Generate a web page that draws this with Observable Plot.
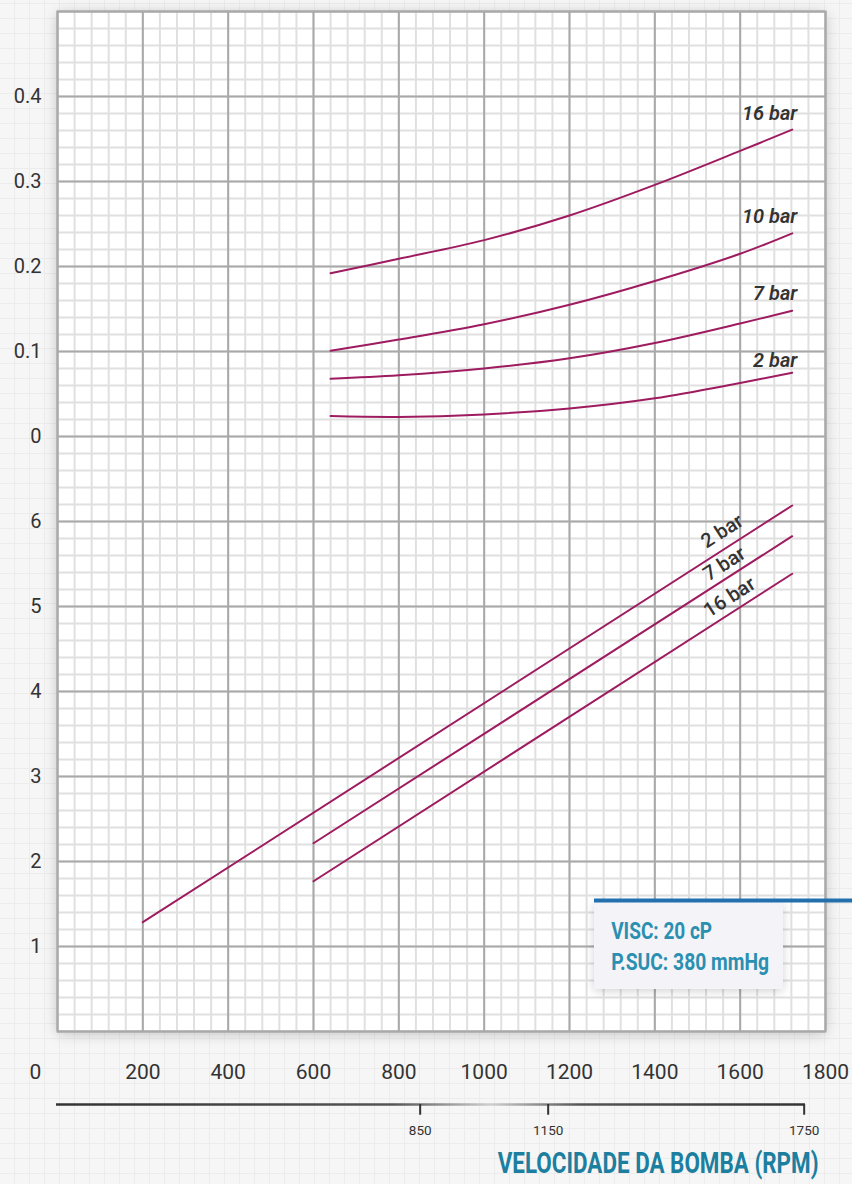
<!DOCTYPE html>
<html><head><meta charset="utf-8">
<script src="https://cdn.jsdelivr.net/npm/d3@7"></script>
<script src="https://cdn.jsdelivr.net/npm/@observablehq/plot@0.6"></script>
<style>
html,body{margin:0;padding:0;}
body{width:852px;height:1184px;overflow:hidden;background-color:#f6f6f6;
background-image:linear-gradient(#ececec 1px,transparent 1px),linear-gradient(90deg,#ececec 1px,transparent 1px);
background-size:15px 15px;background-position:14px 3px;font-family:Roboto,sans-serif;}
#chart svg{display:block;overflow:visible;background:transparent}
</style></head><body><div id="chart"></div>
<script>
// ---------- data ----------
const speedPower = [640, 800, 1000, 1200, 1400, 1600, 1722];
const power16bar = [0.192, 0.209, 0.231, 0.260, 0.296, 0.336, 0.361];
const power10bar = [0.101, 0.114, 0.132, 0.155, 0.183, 0.215, 0.239];
const power7bar  = [0.068, 0.072, 0.080, 0.092, 0.110, 0.133, 0.148];
const power2bar  = [0.024, 0.023, 0.026, 0.033, 0.045, 0.063, 0.075];

const flowSpeed2bar = [200, 1722];
const flow2bar = [1.286, 6.188];
const flowSpeed7bar = [600, 1722];
const flow7bar = [2.215, 5.827];
const flowSpeed16bar = [600, 1722];
const flow16bar = [1.768, 5.385];

const rpmTicks = [200, 400, 600, 800, 1000, 1200, 1400, 1600, 1800];
const flowTicks = [1, 2, 3, 4, 5, 6];
const powerTicks = [0, 0.1, 0.2, 0.3, 0.4];
const speedMarks = [850, 1150, 1750];
const conditions = ["VISC: 20 cP", "P.SUC: 380 mmHg"];
const xTitle = "VELOCIDADE DA BOMBA (RPM)";

// ---------- mapping into the shared vertical band ----------
const flowY = v => v;            // lower band: flow 0..7
const powerY = p => 7 + 10 * p;  // upper band: power 0..0.5

const powerRows = [];
[["16 bar", power16bar], ["10 bar", power10bar], ["7 bar", power7bar], ["2 bar", power2bar]]
  .forEach(([name, arr]) => speedPower.forEach((s, i) => powerRows.push({series: name, rpm: s, y: powerY(arr[i])})));
const flowRows = [];
[["2 bar", flowSpeed2bar, flow2bar], ["7 bar", flowSpeed7bar, flow7bar], ["16 bar", flowSpeed16bar, flow16bar]]
  .forEach(([name, sp, arr]) => sp.forEach((s, i) => flowRows.push({series: name, rpm: s, y: flowY(arr[i])})));

const powerLabels = [
  {t: "16 bar", rpm: 1734, y: powerY(0.380)},
  {t: "10 bar", rpm: 1734, y: powerY(0.2588)},
  {t: "7 bar", rpm: 1734, y: powerY(0.168)},
  {t: "2 bar", rpm: 1734, y: powerY(0.0894)}
];
const flowLabels = [
  {t: "2 bar", rpm: 1558, y: 5.886},
  {t: "7 bar", rpm: 1563, y: 5.502},
  {t: "16 bar", rpm: 1575, y: 5.109}
];

const yLabelRows = [
  ...flowTicks.map(v => ({y: flowY(v), t: String(v)})),
  ...powerTicks.map(p => ({y: powerY(p), t: String(p)}))
];

const curveColor = "#9e1b5f";
const font = "Roboto, 'DejaVu Sans', sans-serif";

const svg = Plot.plot({
  width: 852, height: 1184,
  marginLeft: 57, marginRight: 27, marginTop: 11, marginBottom: 153,
  x: {domain: [0, 1800], axis: null},
  y: {domain: [0, 12], axis: null},
  style: {fontFamily: font, background: "transparent", overflow: "visible"},
  marks: [
    Plot.frame({fill: "white", stroke: null}),
    Plot.ruleX(d3.range(0, 1801, 40), {stroke: "#e0e0e0", strokeWidth: 2}),
    Plot.ruleY(d3.range(0, 60.5, 1).map(i => i / 5), {stroke: "#e0e0e0", strokeWidth: 2}),
    Plot.ruleX(d3.range(0, 1801, 200), {stroke: "#a9a9a9", strokeWidth: 2}),
    Plot.ruleY(d3.range(0, 13, 1), {stroke: "#a9a9a9", strokeWidth: 2}),
    Plot.frame({stroke: "#a9a9a9", strokeWidth: 2}),
    Plot.line(powerRows, {x: "rpm", y: "y", z: "series", stroke: curveColor, strokeWidth: 2, curve: "catmull-rom"}),
    Plot.line(flowRows, {x: "rpm", y: "y", z: "series", stroke: curveColor, strokeWidth: 2}),
    Plot.text(powerLabels, {x: "rpm", y: "y", text: "t", textAnchor: "end", lineAnchor: "middle",
      fontSize: 20, fontStyle: "italic", fontWeight: 600, fill: "#333"}),
    Plot.text(flowLabels, {x: "rpm", y: "y", text: "t", rotate: -32.7, lineAnchor: "middle",
      fontSize: 20, fontWeight: 500, fill: "#333"}),
    // info box
    Plot.rect([0], {x1: 1258.6, x2: 1701.6, y1: 0.494, y2: 1.518, fill: "#f3f3f8"}),
    Plot.ruleY([1.541], {x1: 1258.6, x2: 1870, stroke: "#2271ae", strokeWidth: 4}),
    Plot.text(conditions, {x: 1297.7, y: (d, i) => [1.091, 0.718][i], text: d => d, textAnchor: "start",
      lineAnchor: "bottom", fontSize: 23, fontWeight: 700, fill: "#2a8fb1"}),
    // y tick labels
    Plot.text(yLabelRows, {x: 0, y: "y", text: "t", dx: -16, textAnchor: "end", lineAnchor: "middle",
      fontSize: 20, fill: "#333"}),
    // x tick labels
    Plot.text(rpmTicks, {x: d => d, y: -0.479, text: d => String(d), lineAnchor: "middle", fontSize: 21, fill: "#333"}),
    Plot.text([0], {x: 0, y: -0.479, dx: -22, text: d => String(d), lineAnchor: "middle", fontSize: 21, fill: "#333"}),
    // secondary speed axis
    Plot.ruleY([-0.859], {x1: -2.3, x2: 1753, stroke: "url(#axisGrad)", strokeWidth: 2.5}),
    Plot.ruleX(speedMarks, {x: d => d, y1: -0.859, y2: -0.985, stroke: "#333", strokeWidth: 2}),
    Plot.text(speedMarks, {x: d => d, y: -1.165, text: d => String(d), lineAnchor: "middle", fontSize: 13.5, fill: "#333"}),
    Plot.text([xTitle], {x: 1783.6, y: -1.66, text: d => d, textAnchor: "end", lineAnchor: "bottom",
      fontSize: 29, fontWeight: 700, fill: "#1d7f9f"})
  ]
});

const s = d3.select(svg);
const defs = s.insert("defs", ":first-child");
const g = defs.append("linearGradient").attr("id", "axisGrad").attr("gradientUnits", "userSpaceOnUse")
  .attr("x1", 56).attr("x2", 805).attr("y1", 0).attr("y2", 0);
[[0, "#333"], [0.45, "#555"], [0.58, "#cfcfcf"], [0.7, "#555"], [1, "#333"]]
  .forEach(([o, c]) => g.append("stop").attr("offset", o).attr("stop-color", c));

const frames = svg.querySelectorAll('[aria-label="frame"]');
if (frames.length) frames[0].style.filter = "drop-shadow(0px 2px 7px rgba(0,0,0,0.22))";
s.selectAll('g[aria-label="rect"]').style("filter", "drop-shadow(0px 2px 5px rgba(0,0,0,0.18))");

document.getElementById("chart").appendChild(svg);

// condense the DIN-like texts horizontally to the widths seen in the reference
const fits = {"VELOCIDADE DA BOMBA (RPM)": 321, "VISC: 20 cP": 101, "P.SUC: 380 mmHg": 158};
s.selectAll("text").each(function () {
  const t = this.textContent;
  if (!fits[t]) return;
  const w = this.getComputedTextLength();
  const k = fits[t] / w;
  const x = +this.getAttribute("x") || 0, y = +this.getAttribute("y") || 0;
  const prev = this.getAttribute("transform") || "";
  this.setAttribute("transform", `${prev} translate(${x},${y}) scale(${k},1) translate(${-x},${-y})`.trim());
});
</script></body></html>
